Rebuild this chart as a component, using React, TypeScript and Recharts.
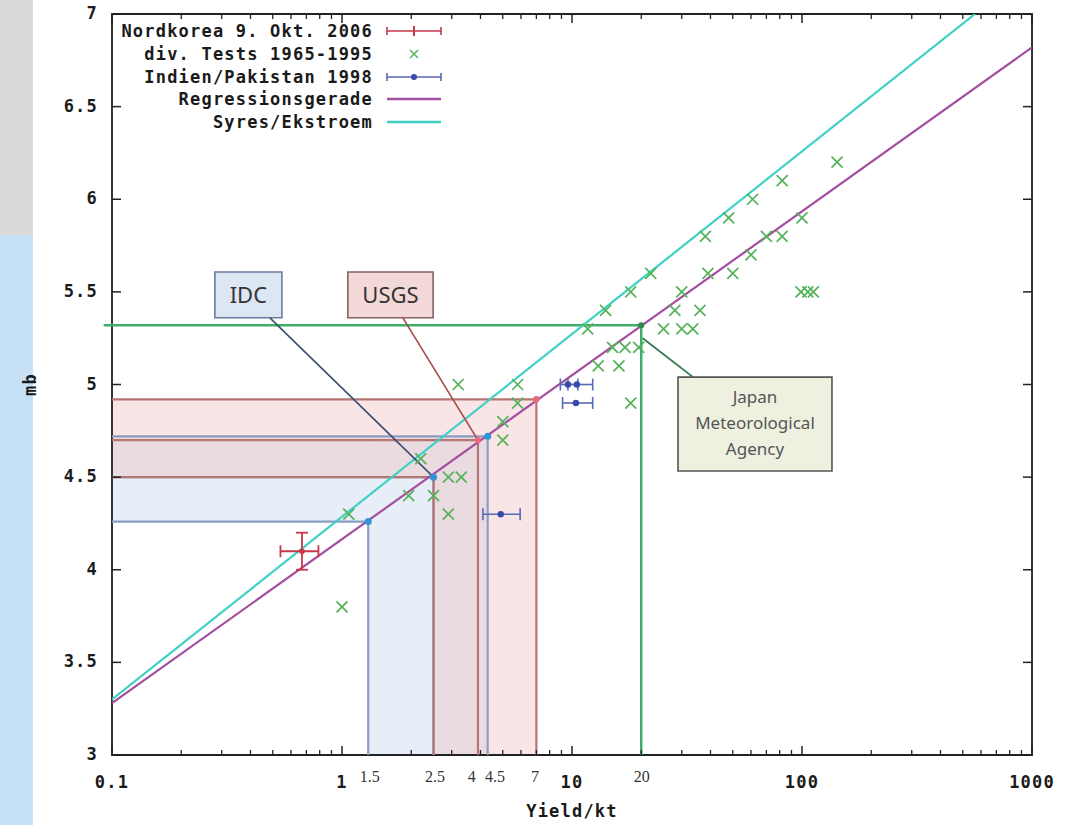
import React from 'react';
import {
  ComposedChart,
  XAxis,
  YAxis,
  Line,
  Scatter,
  ErrorBar,
  ReferenceArea,
  ReferenceLine,
  ReferenceDot,
  Legend,
} from 'recharts';

// ---------- data ----------
const xMajorTicks = [0.1, 1, 10, 100, 1000];
const xMajorLabels = ['0.1', '1', '10', '100', '1000'];
const xMinorTicks = [
  0.2, 0.3, 0.4, 0.5, 0.6, 0.7, 0.8, 0.9,
  2, 3, 4, 5, 6, 7, 8, 9,
  20, 30, 40, 50, 60, 70, 80, 90,
  200, 300, 400, 500, 600, 700, 800, 900,
];
const annotTickPos = [1.32, 2.54, 3.67, 4.63, 6.9, 20.1];
const annotTickLabels = ['1.5', '2.5', '4', '4.5', '7', '20'];
const yTicks = [3, 3.5, 4, 4.5, 5, 5.5, 6, 6.5, 7];
const yTickLabels = ['3', '3.5', '4', '4.5', '5', '5.5', '6', '6.5', '7'];

const regressionLine = [
  { x: 0.1, y: 3.28 },
  { x: 1000, y: 6.82 },
];
const syresLine = [
  { x: 0.1, y: 3.3 },
  { x: 565, y: 7 },
];

const tests = [
  { x: 1.0, y: 3.8 }, { x: 1.07, y: 4.3 }, { x: 1.95, y: 4.4 }, { x: 2.2, y: 4.6 },
  { x: 2.5, y: 4.4 }, { x: 2.9, y: 4.5 }, { x: 3.3, y: 4.5 }, { x: 2.9, y: 4.3 },
  { x: 3.2, y: 5.0 }, { x: 5.0, y: 4.8 }, { x: 5.0, y: 4.7 }, { x: 5.8, y: 5.0 },
  { x: 5.8, y: 4.9 }, { x: 11.7, y: 5.3 }, { x: 13, y: 5.1 }, { x: 16, y: 5.1 },
  { x: 14, y: 5.4 }, { x: 15, y: 5.2 }, { x: 17, y: 5.2 }, { x: 19.5, y: 5.2 },
  { x: 18, y: 5.5 }, { x: 18, y: 4.9 }, { x: 22, y: 5.6 }, { x: 25, y: 5.3 },
  { x: 30, y: 5.3 }, { x: 33.5, y: 5.3 }, { x: 28, y: 5.4 }, { x: 36, y: 5.4 },
  { x: 30, y: 5.5 }, { x: 38, y: 5.8 }, { x: 39, y: 5.6 }, { x: 48, y: 5.9 },
  { x: 50, y: 5.6 }, { x: 60, y: 5.7 }, { x: 61, y: 6.0 }, { x: 70, y: 5.8 },
  { x: 82, y: 5.8 }, { x: 82, y: 6.1 }, { x: 100, y: 5.9 }, { x: 99, y: 5.5 },
  { x: 106, y: 5.5 }, { x: 112, y: 5.5 }, { x: 142, y: 6.2 },
];

const indiaPakistan = [
  { x: 9.6, y: 5.0, xErr: [0.7, 1.0] },
  { x: 10.5, y: 5.0, xErr: [0.9, 1.8] },
  { x: 10.4, y: 4.9, xErr: [1.3, 1.9] },
  { x: 4.9, y: 4.3, xErr: [0.8, 1.05] },
];

const nordkorea = [{ x: 0.67, y: 4.1, xErr: [0.13, 0.12], yErr: [0.1, 0.1] }];

// annotation estimates (yield kt, mb)
const idcPoints = [
  { x: 1.3, y: 4.26 },
  { x: 2.5, y: 4.5 },
  { x: 4.3, y: 4.72 },
];
const usgsPoints = [
  { x: 2.5, y: 4.5 },
  { x: 3.9, y: 4.7 },
  { x: 7, y: 4.92 },
];
const jmaPoint = { x: 20, y: 5.32 };

const idcBox = { x1: 0.28, x2: 0.548, y1: 5.36, y2: 5.607 };
const usgsBox = { x1: 1.06, x2: 2.49, y1: 5.36, y2: 5.607 };
const jmaBox = { x1: 28.9, x2: 135, y1: 4.533, y2: 5.04 };
const idcPointer = [{ x: 0.486, y: 5.36 }, { x: 2.5, y: 4.5 }];
const usgsPointer = [{ x: 1.84, y: 5.36 }, { x: 3.9, y: 4.7 }];
const jmaPointer = [{ x: 20.3, y: 5.25 }, { x: 33.6, y: 5.04 }];
const jmaLines = ['Japan', 'Meteorological', 'Agency'];

const legendLabels = [
  'Nordkorea 9. Okt. 2006',
  'div. Tests 1965-1995',
  'Indien/Pakistan 1998',
  'Regressionsgerade',
  'Syres/Ekstroem',
];

// ---------- layout / style ----------
const W = 1066;
const H = 825;
const MARGIN = { top: 14, right: 34, bottom: 0, left: 0 };
const YAXIS_W = 112;
const XAXIS_H = 70;
const PLOT_W = W - MARGIN.left - MARGIN.right - YAXIS_W;
const PLOT_H = H - MARGIN.top - MARGIN.bottom - XAXIS_H;
const X_MIN = 0.1;
const Y_MIN = 3;

const RED = '#c8374a';
const GREEN_X = '#55b25a';
const BLUE = '#3a4aa8';
const PURPLE = '#a44ea0';
const CYAN = '#3fd0c4';
const JMA_GREEN = '#3fae6a';
const IDC_EDGE = '#8b9dc0';
const USGS_EDGE = '#b47575';

const gnuFont: React.CSSProperties = {
  fontFamily: '"DejaVu Sans Mono", monospace',
  fontWeight: 700,
  fontSize: 17,
  letterSpacing: 1.2,
};

const XTick = (props: any) => {
  const { x, y, payload } = props;
  const v = payload.value;
  const mi = xMajorTicks.indexOf(v);
  if (mi >= 0) {
    return (
      <g>
        <line x1={x} x2={x} y1={y} y2={y - 9} stroke="#222" strokeWidth={1.5} />
        <line x1={x} x2={x} y1={y - PLOT_H} y2={y - PLOT_H + 9} stroke="#222" strokeWidth={1.5} />
        <text x={x} y={y + 33} textAnchor="middle" fill="#1a1a1a" style={gnuFont}>
          {xMajorLabels[mi]}
        </text>
      </g>
    );
  }
  const ai = annotTickPos.indexOf(v);
  if (ai >= 0) {
    return (
      <text
        x={x}
        y={y + 27}
        textAnchor="middle"
        fill="#333"
        style={{ fontFamily: '"Liberation Serif", serif', fontSize: 16 }}
      >
        {annotTickLabels[ai]}
      </text>
    );
  }
  return (
    <g>
      <line x1={x} x2={x} y1={y} y2={y - 5} stroke="#222" strokeWidth={1.3} />
      <line x1={x} x2={x} y1={y - PLOT_H} y2={y - PLOT_H + 5} stroke="#222" strokeWidth={1.3} />
    </g>
  );
};

const YTick = (props: any) => {
  const { x, y, payload } = props;
  const i = yTicks.indexOf(payload.value);
  return (
    <g>
      <line x1={x} x2={x + 9} y1={y} y2={y} stroke="#222" strokeWidth={1.5} />
      <line x1={x + PLOT_W} x2={x + PLOT_W - 9} y1={y} y2={y} stroke="#222" strokeWidth={1.5} />
      <text x={x - 14} y={y + 5} textAnchor="end" fill="#1a1a1a" style={gnuFont}>
        {i >= 0 ? yTickLabels[i] : ''}
      </text>
    </g>
  );
};

const XMarker = (props: any) => {
  const { cx, cy } = props;
  const s = 5.5;
  return (
    <g stroke={GREEN_X} strokeWidth={1.7}>
      <line x1={cx - s} y1={cy - s} x2={cx + s} y2={cy + s} />
      <line x1={cx - s} y1={cy + s} x2={cx + s} y2={cy - s} />
    </g>
  );
};

const BlueDot = (props: any) => <circle cx={props.cx} cy={props.cy} r={3.2} fill={BLUE} />;
const RedDot = (props: any) => <circle cx={props.cx} cy={props.cy} r={2.8} fill={RED} />;

const LegendSample = ({ i }: { i: number }) => {
  const w = 56;
  const h = 14;
  const m = h / 2;
  if (i === 0)
    return (
      <svg width={w} height={h}>
        <line x1={1} x2={w - 1} y1={m} y2={m} stroke={RED} strokeWidth={1.6} />
        <line x1={1} x2={1} y1={m - 4} y2={m + 4} stroke={RED} strokeWidth={1.6} />
        <line x1={w - 1} x2={w - 1} y1={m - 4} y2={m + 4} stroke={RED} strokeWidth={1.6} />
        <line x1={w / 2} x2={w / 2} y1={m - 5} y2={m + 5} stroke={RED} strokeWidth={2} />
      </svg>
    );
  if (i === 1)
    return (
      <svg width={w} height={h}>
        <g stroke={GREEN_X} strokeWidth={1.5}>
          <line x1={w / 2 - 4} x2={w / 2 + 4} y1={m - 4} y2={m + 4} />
          <line x1={w / 2 - 4} x2={w / 2 + 4} y1={m + 4} y2={m - 4} />
        </g>
      </svg>
    );
  if (i === 2)
    return (
      <svg width={w} height={h}>
        <line x1={1} x2={w - 1} y1={m} y2={m} stroke="#5868b8" strokeWidth={1.6} />
        <line x1={1} x2={1} y1={m - 4} y2={m + 4} stroke="#5868b8" strokeWidth={1.6} />
        <line x1={w - 1} x2={w - 1} y1={m - 4} y2={m + 4} stroke="#5868b8" strokeWidth={1.6} />
        <circle cx={w / 2} cy={m} r={3} fill={BLUE} />
      </svg>
    );
  return (
    <svg width={w} height={h}>
      <line x1={1} x2={w - 1} y1={m} y2={m} stroke={i === 3 ? PURPLE : CYAN} strokeWidth={2.4} />
    </svg>
  );
};

const renderLegend = () => (
  <div style={{ position: 'relative' }}>
    {legendLabels.map((lab, i) => (
      <div
        key={lab}
        style={{ display: 'flex', alignItems: 'center', height: 22.7 }}
      >
        <div
          style={{
            width: 260,
            textAlign: 'right',
            color: '#1a1a1a',
            whiteSpace: 'nowrap',
            ...gnuFont,
          }}
        >
          {lab}
        </div>
        <div style={{ marginLeft: 13, display: 'flex' }}>
          <LegendSample i={i} />
        </div>
      </div>
    ))}
  </div>
);

const seg = (a: { x: number; y: number }, b: { x: number; y: number }) =>
  [
    { x: a.x, y: a.y },
    { x: b.x, y: b.y },
  ] as any;

const bandShapes = (
  pts: { x: number; y: number }[],
  fill: string,
  opacity: number,
  key: string,
) => {
  const lo = pts[0];
  const hi = pts[pts.length - 1];
  return [
    <ReferenceArea
      key={key + 'h'}
      x1={X_MIN}
      x2={lo.x}
      y1={lo.y}
      y2={hi.y}
      fill={fill}
      fillOpacity={opacity}
      stroke="none"
    />,
    <ReferenceArea
      key={key + 'v'}
      x1={lo.x}
      x2={hi.x}
      y1={Y_MIN}
      y2={hi.y}
      fill={fill}
      fillOpacity={opacity}
      stroke="none"
    />,
  ];
};

const bandEdges = (pts: { x: number; y: number }[], edge: string, key: string) =>
  pts.flatMap((p, i) => [
    <ReferenceLine
      key={key + 'eh' + i}
      segment={seg({ x: X_MIN, y: p.y }, p)}
      stroke={edge}
      strokeWidth={2.2}
    />,
    <ReferenceLine
      key={key + 'ev' + i}
      segment={seg(p, { x: p.x, y: Y_MIN })}
      stroke={edge}
      strokeWidth={2.2}
    />,
  ]);

const boxLabel = (text: string) => (props: any) => {
  const vb = props.viewBox;
  return (
    <text
      x={vb.x + vb.width / 2}
      y={vb.y + vb.height / 2 + 8}
      textAnchor="middle"
      fill="#333"
      style={{ fontFamily: '"Noto Sans", sans-serif', fontSize: 22 }}
    >
      {text}
    </text>
  );
};

const jmaLabel = (props: any) => {
  const vb = props.viewBox;
  const cx = vb.x + vb.width / 2;
  return (
    <text
      textAnchor="middle"
      fill="#555"
      style={{ fontFamily: '"Noto Sans", sans-serif', fontSize: 17 }}
    >
      {jmaLines.map((l, i) => (
        <tspan key={l} x={cx} y={vb.y + 26 + i * 26}>
          {l}
        </tspan>
      ))}
    </text>
  );
};

export default function App() {
  return (
    <div
      style={{
        position: 'absolute',
        left: 0,
        top: 0,
        width: W,
        height: H,
        background: '#ffffff',
        overflow: 'hidden',
      }}
    >
      <div style={{ position: 'absolute', left: 0, top: 0, width: 33, height: 235, background: '#dadada' }} />
      <div style={{ position: 'absolute', left: 0, top: 235, width: 33, height: H - 235, background: '#c6e1f6' }} />
      <div style={{ position: 'absolute', left: 0, top: 0 }}>
        <ComposedChart width={W} height={H} margin={MARGIN}>
          <XAxis
            dataKey="x"
            type="number"
            scale="log"
            domain={[0.1, 1000]}
            allowDataOverflow
            ticks={[...xMajorTicks, ...xMinorTicks, ...annotTickPos]}
            interval={0}
            tick={<XTick />}
            tickLine={false}
            axisLine={false}
            tickSize={0}
            tickMargin={0}
            height={XAXIS_H}
            label={{
              content: (p: any) => (
                <text
                  x={p.viewBox.x + p.viewBox.width / 2}
                  y={p.viewBox.y + 62}
                  textAnchor="middle"
                  fill="#1a1a1a"
                  style={gnuFont}
                >
                  Yield/kt
                </text>
              ),
            }}
          />
          <YAxis
            type="number"
            domain={[3, 7]}
            allowDataOverflow
            ticks={yTicks}
            interval={0}
            tick={<YTick />}
            tickLine={false}
            axisLine={false}
            tickSize={0}
            tickMargin={0}
            width={YAXIS_W}
            label={{
              content: (p: any) => {
                const cx = p.viewBox.x + 36;
                const cy = p.viewBox.y + p.viewBox.height / 2;
                return (
                  <text
                    x={cx}
                    y={cy}
                    textAnchor="middle"
                    transform={`rotate(-90 ${cx} ${cy})`}
                    fill="#1a1a1a"
                    style={gnuFont}
                  >
                    mb
                  </text>
                );
              },
            }}
          />

          {bandShapes(idcPoints, '#c9daf0', 0.45, 'idc')}
          {bandShapes(usgsPoints, '#efbfbf', 0.4, 'usgs')}
          {bandEdges(idcPoints, IDC_EDGE, 'idc')}
          {bandEdges(usgsPoints, USGS_EDGE, 'usgs')}

          <ReferenceLine
            segment={seg({ x: 0.092, y: jmaPoint.y }, jmaPoint)}
            stroke={JMA_GREEN}
            strokeWidth={2.5}
            ifOverflow="visible"
          />
          <ReferenceLine
            segment={seg(jmaPoint, { x: jmaPoint.x, y: Y_MIN })}
            stroke={JMA_GREEN}
            strokeWidth={2.5}
          />

          <ReferenceArea
            x1={0.1}
            x2={1000}
            y1={3}
            y2={7}
            fill="none"
            stroke="#222"
            strokeWidth={1.8}
          />

          <Line
            data={regressionLine}
            dataKey="y"
            stroke={PURPLE}
            strokeWidth={2.2}
            dot={false}
            isAnimationActive={false}
            legendType="none"
          />
          <Line
            data={syresLine}
            dataKey="y"
            stroke={CYAN}
            strokeWidth={2.2}
            dot={false}
            isAnimationActive={false}
            legendType="none"
          />

          <Scatter data={tests} dataKey="y" shape={<XMarker />} isAnimationActive={false} />
          <Scatter data={indiaPakistan} dataKey="y" shape={<BlueDot />} isAnimationActive={false}>
            <ErrorBar dataKey="xErr" direction="x" width={6} stroke="#5868b8" strokeWidth={1.6} />
          </Scatter>
          <Scatter data={nordkorea} dataKey="y" shape={<RedDot />} isAnimationActive={false}>
            <ErrorBar dataKey="xErr" direction="x" width={6} stroke={RED} strokeWidth={1.8} />
            <ErrorBar dataKey="yErr" direction="y" width={6} stroke={RED} strokeWidth={1.8} />
          </Scatter>

          {idcPoints.map((p, i) => (
            <ReferenceDot key={'idcd' + i} x={p.x} y={p.y} r={3.5} fill="#2f95d6" stroke="none" />
          ))}
          {usgsPoints.slice(1).map((p, i) => (
            <ReferenceDot key={'usgsd' + i} x={p.x} y={p.y} r={3.2} fill="#e86a7a" stroke="none" />
          ))}
          <ReferenceDot x={jmaPoint.x} y={jmaPoint.y} r={3} fill="#2a8a50" stroke="none" />

          <ReferenceLine segment={seg(idcPointer[0], idcPointer[1])} stroke="#3b4c6e" strokeWidth={1.6} />
          <ReferenceLine segment={seg(usgsPointer[0], usgsPointer[1])} stroke="#a84848" strokeWidth={1.6} />
          <ReferenceLine segment={seg(jmaPointer[0], jmaPointer[1])} stroke="#2f7a4c" strokeWidth={1.8} />

          <ReferenceArea
            {...idcBox}
            fill="#dde6f3"
            fillOpacity={1}
            stroke="#6b7ba0"
            strokeWidth={1.6}
            label={{ content: boxLabel('IDC') }}
          />
          <ReferenceArea
            {...usgsBox}
            fill="#f3d8d8"
            fillOpacity={1}
            stroke="#8a6060"
            strokeWidth={1.6}
            label={{ content: boxLabel('USGS') }}
          />
          <ReferenceArea
            {...jmaBox}
            fill="#eef0e0"
            fillOpacity={1}
            stroke="#555"
            strokeWidth={1.6}
            label={{ content: jmaLabel }}
          />

          <Legend
            layout="horizontal"
            verticalAlign="middle"
            align="center"
            content={renderLegend}
            wrapperStyle={{ left: 113, top: 20, width: 340, height: 118 }}
          />
        </ComposedChart>
      </div>
    </div>
  );
}
